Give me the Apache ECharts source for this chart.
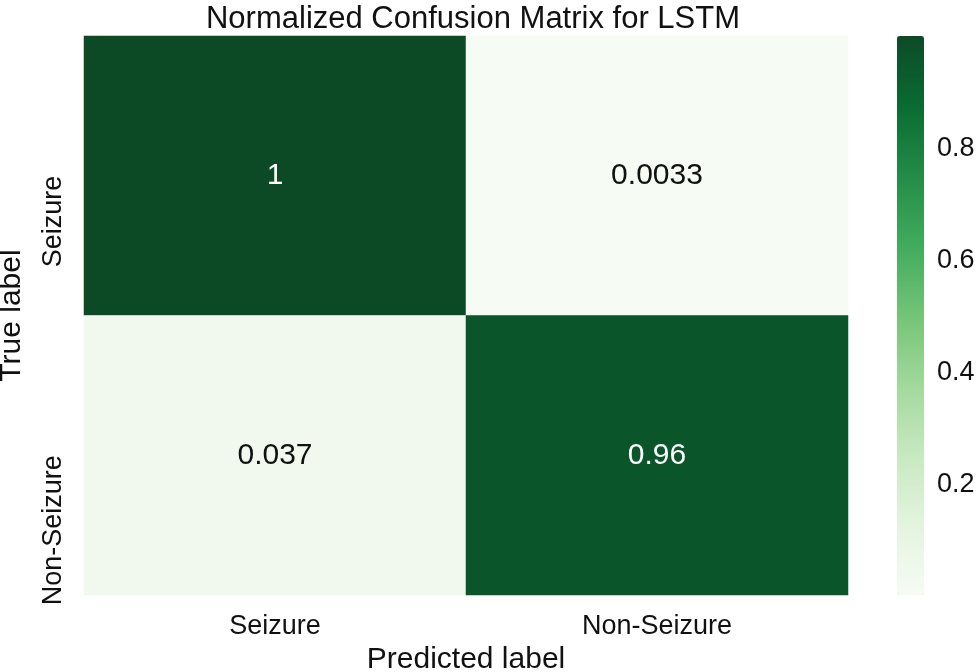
<!DOCTYPE html>
<html><head><meta charset="utf-8">
<script src="https://cdn.jsdelivr.net/npm/echarts@6/dist/echarts.min.js"></script>
<style>html,body{margin:0;padding:0;background:#fff}#c{width:980px;height:672px}</style>
</head><body><div id="c"></div>
<script>
const predictedLabels = ['Seizure', 'Non-Seizure'];
const trueLabels = ['Seizure', 'Non-Seizure'];
// rows = true label, cols = predicted label
const matrixValues = [[1, 0.0033], [0.037, 0.96]];
const cellText = [['1', '0.0033'], ['0.037', '0.96']];
const colorbarTicks = [0.2, 0.4, 0.6, 0.8];
const titleText = 'Normalized Confusion Matrix for LSTM';

const vmin = 0.0033, vmax = 1;
const data = [];
for (let r = 0; r < trueLabels.length; r++)
  for (let c = 0; c < predictedLabels.length; c++)
    data.push({value: [c, r, matrixValues[r][c]], txt: cellText[r][c],
      label: {color: matrixValues[r][c] > 0.5 ? '#fff' : '#111'}});

const F = 'Liberation Sans, Arial, sans-serif';
const chart = echarts.init(document.getElementById('c'));
chart.setOption({
  animation: false,
  title: {text: titleText, left: 468, top: -1, textAlign: 'center',
    textStyle: {fontFamily: F, fontSize: 31, fontWeight: 'normal', color: '#111'}},
  grid: [
    {left: 84, top: 36, width: 764, height: 559, containLabel: false, outerBoundsMode: 'none'},
    {left: 897, top: 36, width: 27, height: 559, containLabel: false, outerBoundsMode: 'none'}
  ],
  xAxis: [
    {type: 'category', data: predictedLabels, gridIndex: 0,
      axisLine: {show: false}, axisTick: {show: false}, splitArea: {show: false},
      axisLabel: {fontFamily: F, fontSize: 27, color: '#111', margin: 18},
      name: 'Predicted label', nameLocation: 'middle', nameGap: 48,
      nameTextStyle: {fontFamily: F, fontSize: 30, color: '#111', verticalAlign: 'top'}},
    {type: 'value', gridIndex: 1, show: false, min: 0, max: 1}
  ],
  yAxis: [
    {type: 'category', data: trueLabels, gridIndex: 0, inverse: true,
      axisLine: {show: false}, axisTick: {show: false},
      axisLabel: {fontFamily: F, fontSize: 27, color: '#111', rotate: 90, margin: 17,
        align: 'right', verticalAlign: 'bottom'},
      name: 'True label', nameLocation: 'middle', nameGap: 57, nameRotate: 90,
      nameTextStyle: {fontFamily: F, fontSize: 30, color: '#111', verticalAlign: 'bottom'}},
    {type: 'value', gridIndex: 1, position: 'right', min: vmin, max: vmax,
      splitLine: {show: false}, axisLine: {show: false},
      axisTick: {show: true, length: 6, lineStyle: {color: '#222', width: 1.5}, customValues: colorbarTicks},
      axisLabel: {fontFamily: F, fontSize: 27, color: '#111', margin: 13, customValues: colorbarTicks,
        formatter: v => String(Math.round(v * 10) / 10)}}
  ],
  visualMap: {
    type: 'continuous', min: vmin, max: vmax, calculable: false, show: true,
    orient: 'vertical', left: 897, top: 36, itemWidth: 27, itemHeight: 559,
    padding: 0, text: null, showLabel: false, seriesIndex: 0, hoverLink: false,
    inRange: {color: ['#f6fbf4','#e4f4df','#c7e9c0','#a1d99b','#74c476','#41ab5d','#248c46','#0a6b32','#0c4a26']}
  },
  series: [{
    type: 'heatmap', xAxisIndex: 0, yAxisIndex: 0, data: data,
    label: {show: true, fontFamily: F, fontSize: 30, formatter: p => p.data.txt},
    emphasis: {disabled: true}
  }]
});
</script></body></html>
